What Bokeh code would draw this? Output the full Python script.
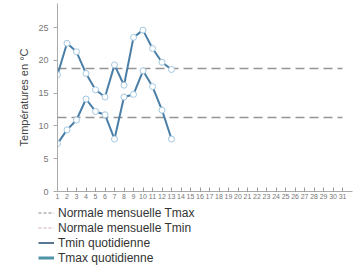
from bokeh.plotting import figure
from bokeh.layouts import column
from bokeh.models import Range1d, Legend, LegendItem, FixedTicker, ColumnDataSource
from bokeh.embed import file_html
from bokeh.resources import INLINE

days = list(range(1, 14))
tmax = [17.8, 22.6, 21.3, 18.0, 15.5, 14.4, 19.3, 16.2, 23.5, 24.6, 21.8, 19.7, 18.6]
tmin = [7.3, 9.4, 10.9, 14.1, 12.2, 11.7, 8.0, 14.4, 14.8, 18.4, 16.0, 12.4, 8.0]
month_days = list(range(1, 32))
normal_tmax = 18.75
normal_tmin = 11.3
y_ticks = [0, 5, 10, 15, 20, 25]
legend_labels = ["Normale mensuelle Tmax", "Normale mensuelle Tmin",
                 "Tmin quotidienne", "Tmax quotidienne"]

FONT = "Liberation Sans"

p = figure(width=356, height=201, output_backend="svg", toolbar_location=None,
           x_range=Range1d(1, 32.05), y_range=Range1d(0, 28.66),
           min_border_left=57, min_border_right=4, min_border_top=3,
           min_border_bottom=0, background_fill_color="white",
           border_fill_color="white", outline_line_color=None)

p.xgrid.visible = False
p.ygrid.visible = False

# normals
p.line([month_days[0], month_days[-1]], [normal_tmax, normal_tmax],
       line_color="#959595", line_width=1.5, line_dash="9 5")
p.line([month_days[0], month_days[-1]], [normal_tmin, normal_tmin],
       line_color="#959595", line_width=1.5, line_dash="9 5")

src = ColumnDataSource(dict(d=days, tmax=tmax, tmin=tmin))
p.line("d", "tmax", source=src, line_color="#4a7ea6", line_width=2)
p.line("d", "tmin", source=src, line_color="#4a7ea6", line_width=2)
p.scatter("d", "tmax", source=src, size=6, fill_color="white",
          line_color="#a3c8df", line_width=1)
p.scatter("d", "tmin", source=src, size=6, fill_color="white",
          line_color="#a3c8df", line_width=1)

# axes
p.yaxis.ticker = FixedTicker(ticks=y_ticks)
p.yaxis.axis_label = "Températures en °C"
p.yaxis.axis_label_text_font = FONT
p.yaxis.axis_label_text_font_size = "11px"
p.yaxis.axis_label_text_font_style = "normal"
p.yaxis.axis_label_text_color = "#444444"
p.yaxis.axis_label_standoff = 5
p.yaxis.major_label_text_font = FONT
p.yaxis.major_label_text_font_size = "9px"
p.yaxis.major_label_text_color = "#777777"
p.yaxis.axis_line_color = "#aaaaaa"
p.yaxis.major_tick_line_color = "#aaaaaa"
p.yaxis.major_tick_out = 4
p.yaxis.major_tick_in = 0
p.yaxis.minor_tick_line_color = None
p.yaxis.major_label_standoff = 5

p.xaxis.ticker = FixedTicker(ticks=month_days)
p.xaxis.major_label_text_font = FONT
p.xaxis.major_label_text_font_size = "7px"
p.xaxis.major_label_text_color = "#777777"
p.xaxis.axis_line_color = "#aaaaaa"
p.xaxis.major_tick_line_color = "#999999"
p.xaxis.major_tick_in = 4
p.xaxis.major_tick_out = 0
p.xaxis.minor_tick_line_color = None
p.xaxis.major_label_standoff = 2

# legend figure (legend only; sample lines lie outside its visible range)
lf = figure(width=356, height=64, output_backend="svg", toolbar_location=None,
            x_range=Range1d(0, 1), y_range=Range1d(0, 1),
            x_axis_location=None, y_axis_location=None,
            min_border=0, outline_line_color=None,
            background_fill_color="white", border_fill_color="white")
if "frame_align" in lf.properties():
    lf.frame_align = False
lf.grid.visible = False
off = ColumnDataSource(dict(x=[5, 6], y=[5, 5]))
lg1 = lf.line("x", "y", source=off, line_color="#b0b0b0",
              line_width=1.5, line_dash="3 2")
lg2 = lf.line("x", "y", source=off, line_color="#e2c6cc",
              line_width=1.5, line_dash="3 2")
lg3 = lf.line("x", "y", source=off, line_color="#1f4a6e",
              line_width=1.5)
lg4 = lf.line("x", "y", source=off, line_color="#4f93a8",
              line_width=3)
legend = Legend(items=[LegendItem(label=legend_labels[0], renderers=[lg1]),
                       LegendItem(label=legend_labels[1], renderers=[lg2]),
                       LegendItem(label=legend_labels[2], renderers=[lg3]),
                       LegendItem(label=legend_labels[3], renderers=[lg4])],
                location="top_left", orientation="vertical",
                label_text_font=FONT, label_text_font_size="12px",
                label_text_color="#333333", glyph_width=16, glyph_height=15,
                label_height=15, label_width=10, label_standoff=4,
                spacing=0, padding=0, margin=0,
                border_line_color=None, background_fill_alpha=0)
lf.add_layout(legend, "center")
lf.min_border_left = 38
lf.min_border_top = 4

layout = column(p, lf, spacing=0)
open("out.html", "w").write(file_html(layout, INLINE))
